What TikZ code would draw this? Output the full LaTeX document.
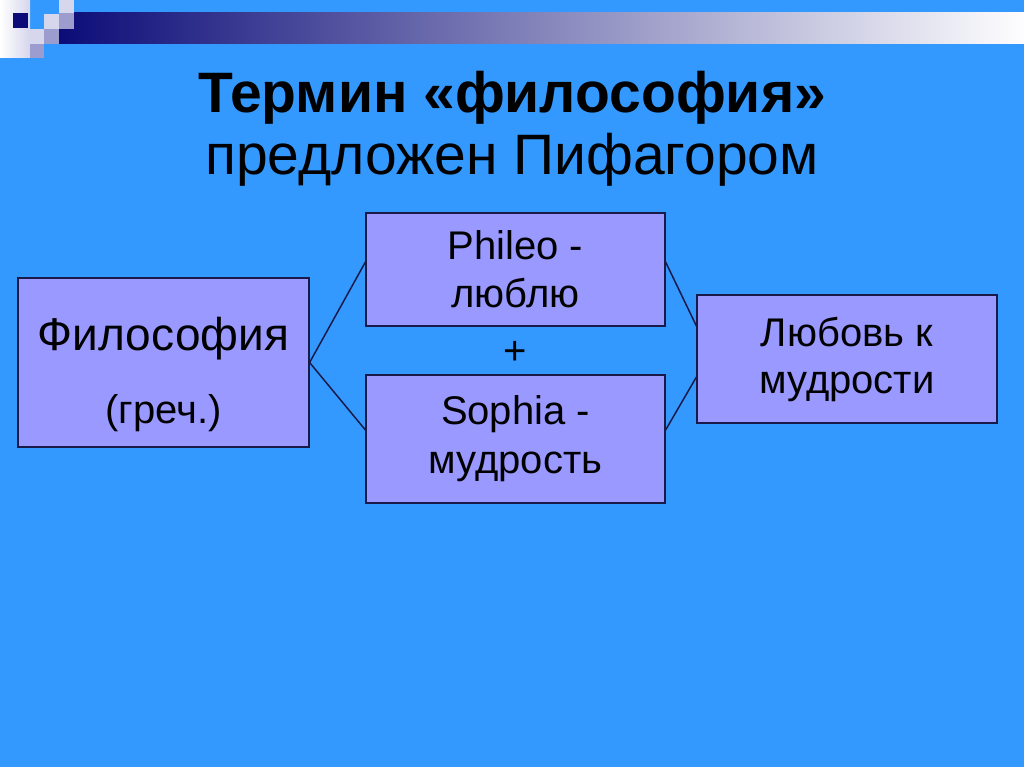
\documentclass[tikz,border=0pt]{standalone}
\usepackage{fontspec}
\setmainfont{Liberation Sans}
\usetikzlibrary{positioning}
\definecolor{sky}{HTML}{3399FF}
\definecolor{lilac}{HTML}{9999FF}
\definecolor{navy}{HTML}{0C0C78}
\definecolor{pale}{HTML}{D6D6EC}
\definecolor{mauve}{HTML}{9C9CCE}
\definecolor{greyband}{HTML}{B4B4C8}
\definecolor{edge}{HTML}{1A1A48}
\tikzset{
  box/.style={draw=edge, line width=1.2pt, fill=lilac, align=center, inner sep=0pt},
  link/.style={draw=edge, line width=1.5pt}
}

\begin{document}
\begin{tikzpicture}[x=1pt, y=-1pt]
\fill[sky] (0,0) rectangle (1024,767);
\useasboundingbox (0,0) rectangle (1024,767);

% corner squares and band
\shade[left color=navy, middle color=greyband, right color=white!97!pale] (59,13) rectangle (1024,44);
\shade[left color=white, right color=pale] (0,0) rectangle (30,58);
\fill[navy] (13,13) rectangle (28,28);
\fill[pale] (30,29) rectangle (44,44);
\fill[mauve] (30,44) rectangle (44,58);
\fill[pale] (44,14) rectangle (59,29);
\fill[mauve] (44,29) rectangle (59,44);
\fill[pale] (59,0) rectangle (74,13);
\fill[mauve] (59,13) rectangle (74,29);

\node[anchor=base, font=\fontsize{57}{64}\selectfont\bfseries] (title) at (512,113) {Термин «философия»};
\node[anchor=base, font=\fontsize{57}{64}\selectfont] (author) at (512,175) {предложен Пифагором};

\node[box, minimum width=291pt, minimum height=169pt, font=\fontsize{40}{73}\selectfont] (filo) at (163.5,362.5)
  {\rule{0pt}{58pt}{\fontsize{46}{73}\selectfont Философия}\\(греч.)};
\node[box, minimum width=299pt, minimum height=113pt, font=\fontsize{40}{48}\selectfont] (phileo) at (515.5,269.5) {Phileo -\\люблю};
\node[box, minimum width=299pt, minimum height=128pt, font=\fontsize{40}{49}\selectfont] (sophia) at (515.5,439) {Sophia -\\мудрость};
\node[box, minimum width=300pt, minimum height=128pt, font=\fontsize{40}{47}\selectfont] (love) at (847,359) {Любовь к\\мудрости};
\node[font=\fontsize{40}{48}\selectfont] (plus) at (515.5,353) {+};

\draw[link] (filo.east) -- ([yshift=7.5pt]phileo.west);
\draw[link] (filo.east) -- ([yshift=9pt]sophia.west);
\draw[link] ([yshift=7.5pt]phileo.east) -- ([yshift=33pt]love.west);
\draw[link] ([yshift=9pt]sophia.east) -- ([yshift=-18pt]love.west);
\end{tikzpicture}
\end{document}
